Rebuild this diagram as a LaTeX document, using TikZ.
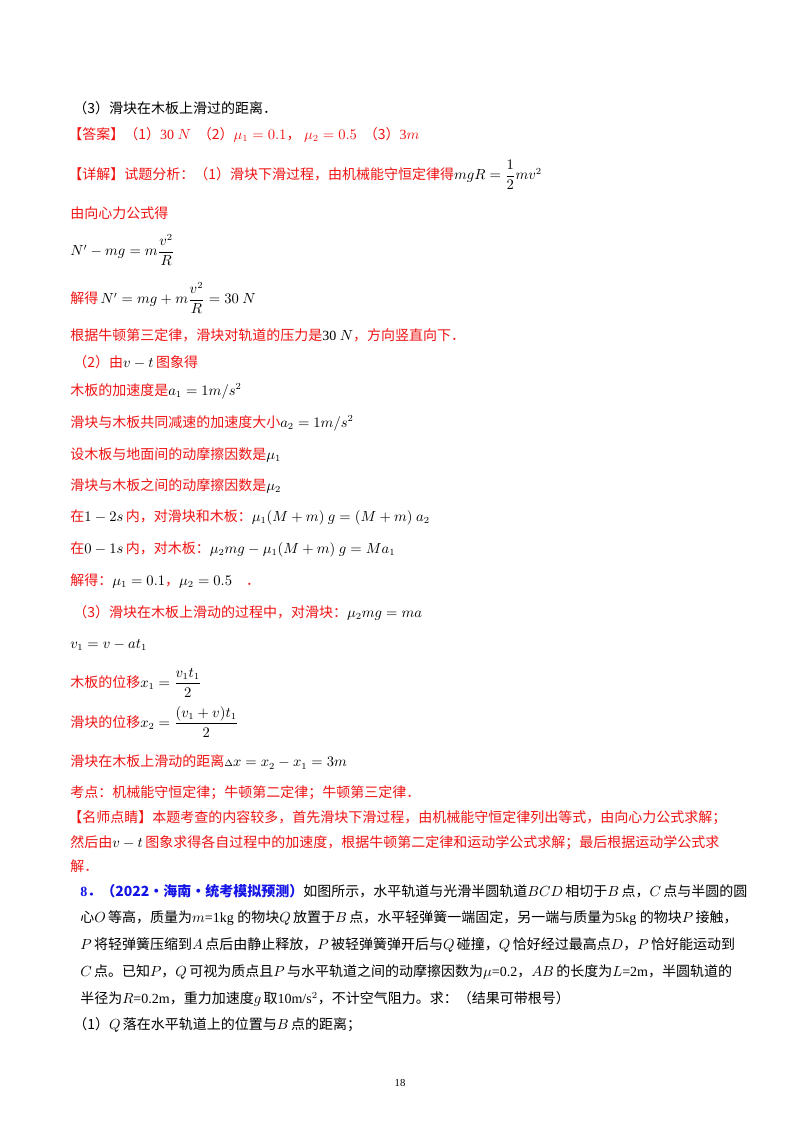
\documentclass[tikz,border=0pt]{standalone}
\usepackage{amsmath}
\usepackage{fontspec}
\setmainfont{Liberation Serif}
\newfontfamily\cjk{Noto Sans CJK SC}
\definecolor{ansred}{RGB}{240,20,20}
\definecolor{qblue}{RGB}{20,20,230}
\newcommand{\zh}[1]{{\cjk #1}}
\begin{document}
\begin{tikzpicture}[x=0.75pt,y=-0.75pt,
  ln/.style={anchor=west,inner sep=0pt,font=\fontsize{10.5pt}{13pt}\selectfont},
  rd/.style={ln,text=ansred},
  bk/.style={ln,text=black}]
\fill[white] (0,0) rectangle (800,1132);
\node[bk] (l1) at (73,108) {\zh{（3）滑块在木板上滑过的距离．}};
\node[rd] (l2) at (68,135) {\zh{【答案】（1）}30 $N$ \ \zh{（2）}$\mu_1=0.1$\zh{，} $\mu_2=0.5$ \ \zh{（3）}3$m$};
\node[rd] (l3) at (68,175) {\zh{【详解】试题分析：（1）滑块下滑过程，由机械能守恒定律得}\textcolor{black}{$mgR=\dfrac{1}{2}mv^2$}};
\node[rd] (l4) at (70,213) {\zh{由向心力公式得}};
\node[bk] (l5) at (70,250) {$N'-mg=m\dfrac{v^2}{R}$};
\node[rd] (l6) at (70,298) {\zh{解得}\,\textcolor{black}{$N'=mg+m\dfrac{v^2}{R}=30\ N$}};
\node[rd] (l7) at (70,335) {\zh{根据牛顿第三定律，滑块对轨道的压力是}\textcolor{black}{30 $N$}\zh{，方向竖直向下．}};
\node[rd] (l8) at (73,362) {\zh{（2）由}\textcolor{black}{$v-t$}\,\zh{图象得}};
\node[rd] (l9) at (70,391) {\zh{木板的加速度是}\textcolor{black}{$a_1=1m/s^2$}};
\node[rd] (l10) at (70,423) {\zh{滑块与木板共同减速的加速度大小}\textcolor{black}{$a_2=1m/s^2$}};
\node[rd] (l11) at (70,455) {\zh{设木板与地面间的动摩擦因数是}\textcolor{black}{$\mu_1$}};
\node[rd] (l12) at (70,486) {\zh{滑块与木板之间的动摩擦因数是}\textcolor{black}{$\mu_2$}};
\node[rd] (l13) at (70,517) {\zh{在}\textcolor{black}{$1-2s$}\,\zh{内，对滑块和木板：}\textcolor{black}{$\mu_1(M+m)\ g=(M+m)\ a_2$}};
\node[rd] (l14) at (70,549) {\zh{在}\textcolor{black}{$0-1s$}\,\zh{内，对木板：}\textcolor{black}{$\mu_2mg-\mu_1(M+m)\ g=Ma_1$}};
\node[rd] (l15) at (70,581) {\zh{解得：}\textcolor{black}{$\mu_1=0.1$}\zh{，}\textcolor{black}{$\mu_2=0.5$}\quad\zh{．}};
\node[rd] (l16) at (73,613) {\zh{（3）滑块在木板上滑动的过程中，对滑块：}\textcolor{black}{$\mu_2mg=ma$}};
\node[bk] (l17) at (70,645) {$v_1=v-at_1$};
\node[rd] (l18) at (70,683) {\zh{木板的位移}\textcolor{black}{$x_1=\dfrac{v_1t_1}{2}$}};
\node[rd] (l19) at (70,722) {\zh{滑块的位移}\textcolor{black}{$x_2=\dfrac{(v_1+v)t_1}{2}$}};
\node[rd] (l20) at (70,762) {\zh{滑块在木板上滑动的距离}\textcolor{black}{$\scriptstyle\Delta$$x=x_2-x_1=3m$}};
\node[rd] (l21) at (70,793) {\zh{考点：机械能守恒定律；牛顿第二定律；牛顿第三定律．}};
\node[rd] (l22) at (68,818) {\zh{【名师点睛】本题考查的内容较多，首先滑块下滑过程，由机械能守恒定律列出等式，由向心力公式求解；}};
\node[rd] (l23) at (70,843) {\zh{然后由}\textcolor{black}{$v-t$}\,\zh{图象求得各自过程中的加速度，根据牛顿第二定律和运动学公式求解；最后根据运动学公式求}};
\node[rd] (l24) at (70,866) {\zh{解．}};
\node[bk] (q1) at (80,891) {\textcolor{qblue}{\textbf{8}\zh{\textbf{．（2022·海南·统考模拟预测）}}}\zh{如图所示，水平轨道与光滑半圆轨道}$BCD$\,\zh{相切于}$B$\,\zh{点，}$C$\,\zh{点与半圆的圆}};
\node[bk] (q2) at (80,918) {\zh{心}$O$\,\zh{等高，质量为}$m$=1kg \zh{的物块}$Q$\,\zh{放置于}$B$\,\zh{点，水平轻弹簧一端固定，另一端与质量为}5kg \zh{的物块}$P$\,\zh{接触，}};
\node[bk] (q3) at (80,945) {$P$\,\zh{将轻弹簧压缩到}$A$\,\zh{点后由静止释放，}$P$\,\zh{被轻弹簧弹开后与}$Q$\,\zh{碰撞，}$Q$\,\zh{恰好经过最高点}$D$\zh{，}$P$\,\zh{恰好能运动到}};
\node[bk] (q4) at (80,972) {$C$\,\zh{点。已知}$P$\zh{，}$Q$\,\zh{可视为质点且}$P$\,\zh{与水平轨道之间的动摩擦因数为}$\mu$=0.2\zh{，}$AB$\,\zh{的长度为}$L$=2m\zh{，半圆轨道的}};
\node[bk] (q5) at (80,999) {\zh{半径为}$R$=0.2m\zh{，重力加速度}$g$\,\zh{取}10m/s$^2$\zh{，不计空气阻力。求：（结果可带根号）}};
\node[bk] (q6) at (73,1025) {\zh{（1）}$Q$\,\zh{落在水平轨道上的位置与}$B$\,\zh{点的距离；}};
\node[inner sep=0pt,font=\fontsize{8pt}{9pt}\selectfont] (pg) at (400,1083) {18};
\end{tikzpicture}
\end{document}
